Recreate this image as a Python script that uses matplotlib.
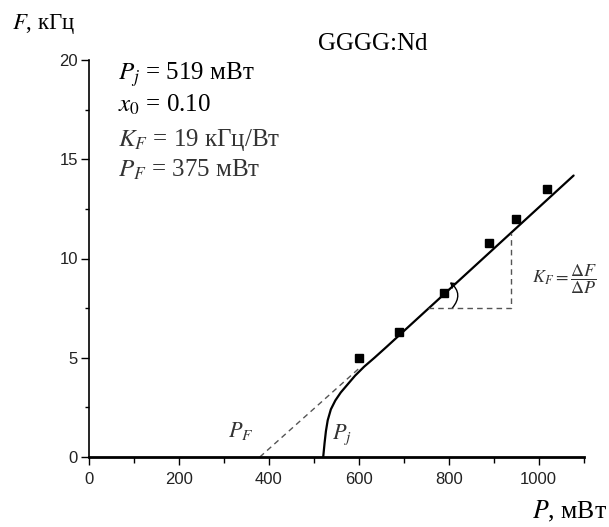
import matplotlib
matplotlib.use("Agg")
import matplotlib.pyplot as plt
from matplotlib.patches import FancyArrowPatch
from matplotlib.ticker import MultipleLocator

plt.rcParams['mathtext.fontset'] = 'stix'
SERIF = ['Liberation Serif', 'DejaVu Serif']
SANS = ['Liberation Sans', 'DejaVu Sans']

# Measured points
power_mw = [600, 690, 790, 890, 950, 1018]
freq_khz = [5.0, 6.3, 8.25, 10.8, 12.0, 13.5]

# Fitted curve
curve_p = [521, 524, 527, 531, 538, 548, 560, 575, 592, 612, 635, 662, 1078]
curve_f = [0.0, 0.7, 1.3, 1.85, 2.4, 2.85, 3.25, 3.65, 4.1, 4.55, 5.0, 5.55, 14.18]

# Linear extrapolation (dashed)
extrap_p = [380, 600]
extrap_f = [0.0, 4.45]

# Slope triangle
tri_p = [755, 938, 938]
tri_f = [7.5, 7.5, 11.3]

fig = plt.figure(figsize=(6.09, 5.27), dpi=100)
ax = fig.add_axes([89 / 609, 1 - 457 / 527, 494.5 / 609, 397 / 527])
ax.set_xlim(0, 1100)
ax.set_ylim(0, 20)

ax.plot(curve_p, curve_f, color='black', lw=1.6, solid_capstyle='round')
ax.plot(extrap_p, extrap_f, color='#555555', lw=1.0, ls=(0, (4, 3)))
ax.plot(tri_p, tri_f, color='#555555', lw=1.0, ls=(0, (4, 3)))
ax.plot(power_mw, freq_khz, ls='none', marker='s', ms=6, color='black')

arc = FancyArrowPatch((808, 7.5), (803, 8.8), connectionstyle='arc3,rad=0.5',
                      arrowstyle='->,head_length=3,head_width=2', color='black', lw=1.0,
                      shrinkA=0, shrinkB=0)
ax.add_patch(arc)

for s in ['top', 'right']:
    ax.spines[s].set_visible(False)
ax.spines['bottom'].set_linewidth(2.0)
ax.spines['left'].set_linewidth(1.2)

ax.xaxis.set_major_locator(MultipleLocator(200))
ax.xaxis.set_minor_locator(MultipleLocator(100))
ax.yaxis.set_major_locator(MultipleLocator(5))
ax.yaxis.set_minor_locator(MultipleLocator(2.5))
ax.tick_params(which='major', direction='out', length=5.5, width=1.0, colors='black')
ax.tick_params(which='minor', direction='out', length=3.0, width=1.0, colors='black')
ax.tick_params(axis='x', which='major', length=6, pad=5)
ax.tick_params(axis='x', which='minor', length=4)
ax.tick_params(axis='y', which='major', pad=2.5)
for lab in ax.get_xticklabels() + ax.get_yticklabels():
    lab.set_fontfamily(SANS)
    lab.set_fontsize(12)
    lab.set_color('#222222')

# Axis titles
fig.text(12 / 609, 1 - 28.5 / 527, r'$F$, кГц', fontsize=16.5, family=SERIF, va='baseline', ha='left')
fig.text(607 / 609, 1 - 518 / 527, r'$P$, мВт', fontsize=18.5, family=SERIF, va='baseline', ha='right')
fig.text(373 / 609, 1 - 50 / 527, 'GGGG:Nd', fontsize=18, family=SERIF, va='baseline', ha='center')

# Parameters
params = [r'$P_j$ = 519 мВт', r'$x_0$ = 0.10', r'$K_F$ = 19 кГц/Вт', r'$P_F$ = 375 мВт']
pcol = ['black', 'black', '#333333', '#333333']
baselines = [80, 112, 146, 177]
for t, c, b in zip(params, pcol, baselines):
    fig.text(118 / 609, 1 - b / 527, t, fontsize=18, family=SERIF,
             va='baseline', ha='left', color=c)

ax.text(338, 1.3, r'$P_F$', fontsize=16, color='#333333', ha='center', va='center')
ax.text(563, 1.1, r'$P_j$', fontsize=16, color='#333333', ha='center', va='center')
ax.text(985, 8.95, r'$K_F = \dfrac{\Delta F}{\Delta P}$', fontsize=13, color='#333333',
        ha='left', va='center')

fig.savefig('out.png', dpi=100)
